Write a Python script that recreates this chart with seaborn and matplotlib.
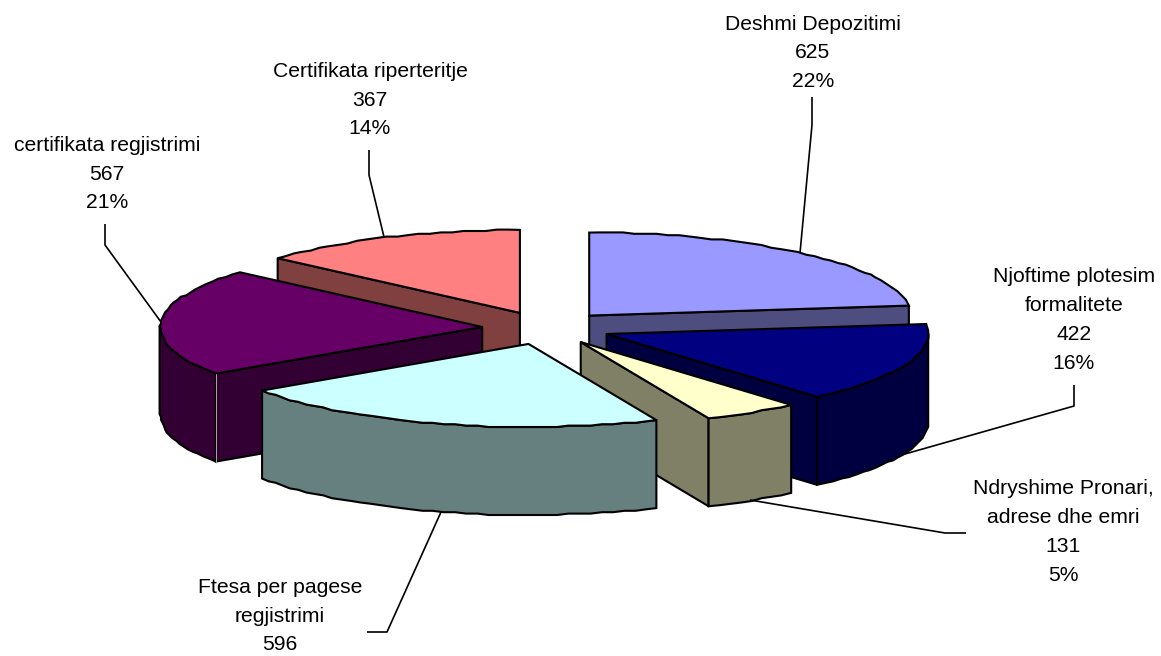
import numpy as np
import pandas as pd
import seaborn as sns
import matplotlib.pyplot as plt

# values as shown on the chart, clockwise from 12 o'clock
names = ['Deshmi Depozitimi', 'Njoftime plotesim\nformalitete', 'Ndryshime Pronari,\nadrese dhe emri',
         'Ftesa per pagese\nregjistrimi', 'certifikata regjistrimi', 'Certifikata riperteritje']
counts = [625, 422, 131, 596, 567, 367]
shown_pct = ['22%', '16%', '5%', None, '21%', '14%']
top_colors = ['#9999FF', '#000080', '#FFFFCC', '#CCFFFF', '#660066', '#FF8080']

# pie geometry, in pixels of the 1161x656 figure
CX, CY = 546.5, 328
RX, RY = 322, 83
DEPTH = 88
EXPLODE = 0.2
LW = 1.5
GRID = 1.4

# back slices first
draw_order = [5, 0, 4, 1, 2, 3]

label_pos = [(813, 53), (1074, 320), (1063, 532), (280, 616), (107, 174), (370, 100)]
leaders = [
    [(812, 97), (812, 125), (800, 253)],
    [(1074, 385), (1074, 406), (905, 454)],
    [(750, 500), (945, 533), (966, 533)],
    [(367, 632), (387, 632), (441, 512)],
    [(105, 224), (105, 245), (161, 322)],
    [(369, 150), (369, 175), (384, 237)],
]


def ell(a, cx, cy):
    return cx + RX * np.sin(a), cy - RY * np.cos(a)


def wall(ax, x0, y0, x1, y1, color):
    ax.fill([x0, x1, x1, x0], [y0, y1, y1 + DEPTH, y0 + DEPTH], fc=color, ec='black', lw=LW, joinstyle='round')


sns.set_style('white')
plt.rcParams['font.family'] = ['Liberation Sans', 'DejaVu Sans']

palette = sns.color_palette(top_colors)

df = pd.DataFrame({'name': names, 'count': counts})
df['end'] = np.cumsum(df['count']) / df['count'].sum() * 2 * np.pi
df['start'] = df['end'] - df['count'] / df['count'].sum() * 2 * np.pi
df['mid'] = (df['start'] + df['end']) / 2

fig = plt.figure(figsize=(11.61, 6.56), dpi=100)
ax = fig.add_axes([0, 0, 1, 1])
ax.set_xlim(0, 1161)
ax.set_ylim(656, 0)
ax.axis('off')

for i in draw_order:
    row = df.iloc[i]
    side = tuple(c * 0.5 for c in palette[i])
    ox, oy = ell(row['mid'], CX, CY)
    ox, oy = CX + EXPLODE * (ox - CX), CY + EXPLODE * (oy - CY)

    # fine steps snapped to a small grid, the original arcs are slightly faceted
    steps = max(int((row['end'] - row['start']) / np.radians(2.0)), 2)
    angles = np.linspace(row['start'], row['end'], steps + 1)
    xs, ys = ell(angles, ox, oy)
    ys[1:-1] = np.round(ys[1:-1] / GRID) * GRID
    xs[1:-1] = np.round(xs[1:-1] / GRID) * GRID

    # radial cut faces, only where they look towards the viewer
    for edge, normal in ((row['start'], row['start'] - np.pi / 2), (row['end'], row['end'] + np.pi / 2)):
        if -np.cos(normal) > 0:
            ex, ey = ell(edge, ox, oy)
            wall(ax, ox, oy, ex, ey, side)

    # outer rim, front half of the ellipse
    front = -np.cos(angles) > -0.02
    if front.sum() > 1:
        fx, fy = xs[front], ys[front]
        ax.fill(np.r_[fx, fx[::-1]], np.r_[fy, fy[::-1] + DEPTH], fc=side, ec='black', lw=LW)

    # the purple slice has a pale corner line in the original
    if i == 4:
        ax.plot([xs[0], xs[0]], [ys[0], ys[0] + DEPTH], color='#aaaaaa', lw=0.7)

    ax.fill(np.r_[ox, xs], np.r_[oy, ys], fc=palette[i], ec='black', lw=LW)

for pts in leaders:
    ax.plot(*zip(*pts), color='black', lw=1.2, solid_capstyle='butt')

for name, n, pct, (lx, ly) in zip(names, counts, shown_pct, label_pos):
    txt = f'{name}\n{n}' + (f'\n{pct}' if pct else '')
    ax.text(lx, ly, txt, ha='center', va='center', fontsize=15.2, linespacing=1.65, color='black')

fig.savefig('out.png', dpi=100)
